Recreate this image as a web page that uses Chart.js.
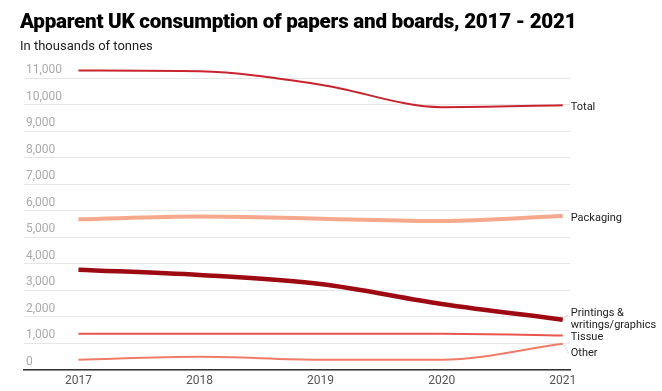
<!DOCTYPE html>
<html>
<head>
<meta charset="utf-8">
<script src="https://cdn.jsdelivr.net/npm/chart.js@4/dist/chart.umd.min.js"></script>
<style>
  html, body { margin:0; padding:0; background:#fff; }
  #wrap { position:relative; width:662px; height:391px; overflow:hidden; font-family: Roboto, "Noto Sans", sans-serif; }
  #title { position:absolute; left:20px; top:9px; font-size:20.6px; font-weight:900; color:#000; letter-spacing:-0.25px; white-space:nowrap; }
  #sub { position:absolute; left:20px; top:38px; font-size:13px; color:#222; white-space:nowrap; }
  canvas { position:absolute; left:0; top:0; }
</style>
</head>
<body>
<div id="wrap">
  <canvas id="c" width="662" height="391"></canvas>
  <div id="title">Apparent UK consumption of papers and boards, 2017 - 2021</div>
  <div id="sub">In thousands of tonnes</div>
</div>
<script>
const years = [2017, 2018, 2019, 2020, 2021];
const total = [11280, 11250, 10750, 9900, 9970];
const packaging = [5680, 5780, 5700, 5610, 5800];
const printings = [3780, 3580, 3240, 2490, 1895];
const tissue = [1370, 1370, 1370, 1370, 1300];
const other = [390, 500, 390, 390, 990];
const yTicks = [0, 1000, 2000, 3000, 4000, 5000, 6000, 7000, 8000, 9000, 10000, 11000];

const seriesNames = ['Total', 'Packaging', 'Printings & writings/graphics', 'Tissue', 'Other'];
const seriesLabels = [['Total'], ['Packaging'], ['Printings &', 'writings/graphics'], ['Tissue'], ['Other']];
const seriesValues = [total, packaging, printings, tissue, other];
const colors = ['#c8232f', '#f5a88c', '#9e0a12', '#e8554e', '#f07c68'];
const widths = [2, 4, 4.5, 2, 2];
// label vertical pixel offsets (nudge to avoid overlap), relative to last point
const labelNudge = [2, 2, -6, 2, 10];
const connector = [false, false, true, false, true];

const datasets = seriesValues.map((vals, i) => ({
  label: seriesNames[i],
  data: years.map((y, j) => ({ x: y, y: vals[j] })),
  borderColor: colors[i],
  backgroundColor: colors[i],
  borderWidth: widths[i],
  pointRadius: 0,
  cubicInterpolationMode: 'monotone',
  clip: false,
  order: i === 2 ? 0 : 1
}));

const endLabels = {
  id: 'endLabels',
  afterDatasetsDraw(chart) {
    const ctx = chart.ctx;
    ctx.save();
    ctx.font = '11px Roboto, "Noto Sans", sans-serif';
    ctx.fillStyle = '#222';
    ctx.textBaseline = 'middle';
    ctx.textAlign = 'left';
    chart.data.datasets.forEach((ds, i) => {
      const meta = chart.getDatasetMeta(i);
      const pt = meta.data[meta.data.length - 1];
      const lx = pt.x + 8;
      const lines = seriesLabels[i];
      const y0 = pt.y + labelNudge[i];
      if (connector[i]) {
        ctx.save();
        ctx.strokeStyle = '#999';
        ctx.lineWidth = 0.8;
        ctx.setLineDash([1, 1.5]);
        ctx.beginPath();
        ctx.moveTo(pt.x + 2, pt.y + (labelNudge[i] > 0 ? 2 : -2));
        ctx.lineTo(lx - 2, y0);
        ctx.stroke();
        ctx.restore();
      }
      lines.forEach((t, k) => ctx.fillText(t, lx, y0 + k * 12));
    });
    ctx.restore();
  }
};

new Chart(document.getElementById('c'), {
  type: 'line',
  data: { datasets },
  options: {
    responsive: false,
    animation: false,
    layout: { padding: { left: 20, right: 92, top: 78, bottom: 0 } },
    plugins: { legend: { display: false }, tooltip: { enabled: false } },
    scales: {
      x: {
        type: 'linear',
        min: 2016.55,
        max: 2021.06,
        afterBuildTicks: (s) => { s.ticks = years.map(v => ({ value: v })); },
        afterFit: (s) => { s.height = 21; },
        grid: { display: false, drawTicks: false },
        border: { display: true, color: '#333', width: 1.5 },
        ticks: {
          padding: 4,
          color: '#555',
          font: { family: 'Roboto', size: 12 },
          callback: (v) => String(v),
          maxRotation: 0,
          autoSkip: false
        }
      },
      y: {
        min: 0,
        max: 11000,
        afterBuildTicks: (s) => { s.ticks = yTicks.map(v => ({ value: v })); },
        grid: { color: '#e6e6e6', lineWidth: 1, drawTicks: false },
        border: { display: false },
        ticks: {
          mirror: true,
          padding: 2,
          labelOffset: -8,
          color: '#aaa',
          font: { family: 'Roboto', size: 12 },
          callback: (v) => v.toLocaleString('en-US')
        }
      }
    }
  },
  plugins: [endLabels]
});
</script>
</body>
</html>
